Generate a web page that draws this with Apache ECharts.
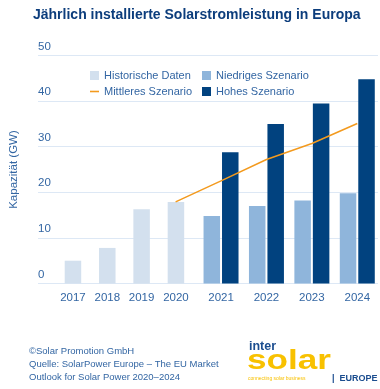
<!DOCTYPE html>
<html><head><meta charset="utf-8">
<script src="https://cdn.jsdelivr.net/npm/echarts@6/dist/echarts.min.js"></script>
<style>html,body{margin:0;padding:0;background:#fff}#c{width:380px;height:389px}</style>
</head><body><div id="c"></div>
<script>
const histYears = ['2017','2018','2019','2020'];
const histValues = [5.0, 7.8, 16.3, 17.9];
const scenYears = ['2020','2021','2022','2023','2024'];
const lowValues = [null, 14.8, 17.0, 18.2, 19.8];
const highValues = [null, 28.8, 35.0, 39.5, 44.8];
const midValues = [17.9, 22.5, 27.2, 30.7, 35.1];
const yTicks = [0, 10, 20, 30, 40, 50];

const FONT = '"Liberation Sans", sans-serif';
const TXT = '#3366a3';
const chart = echarts.init(document.getElementById('c'), null, {renderer: 'canvas'});
const yBase = {type: 'value', min: yTicks[0], max: yTicks[yTicks.length - 1], interval: 10};
chart.setOption({
  animation: false,
  backgroundColor: '#fff',
  title: {text: 'Jährlich installierte Solarstromleistung in Europa', left: 28, top: 3,
    textStyle: {fontFamily: FONT, fontWeight: 'bold', fontSize: 14, color: '#0c3d7c'}},
  grid: [
    {left: 29, right: 2, top: 55.5, bottom: 105.5},
    {left: 55.8, width: 137.3, top: 55.5, bottom: 105.5},
    {left: 152.9, width: 231.25, top: 55.5, bottom: 105.5}
  ],
  xAxis: [
    {type: 'category', gridIndex: 0, data: histYears, show: false},
    {type: 'category', gridIndex: 1, data: histYears, axisLine: {show: false}, axisTick: {show: false},
      axisLabel: {interval: 0, color: TXT, fontFamily: FONT, fontSize: 11.5, margin: 8}},
    {type: 'category', gridIndex: 2, data: scenYears, axisLine: {show: false}, axisTick: {show: false},
      axisLabel: {interval: 0, color: TXT, fontFamily: FONT, fontSize: 11.5, margin: 8, formatter: v => v === '2020' ? '' : v}}
  ],
  yAxis: [
    Object.assign({}, yBase, {gridIndex: 0, name: 'Kapazität (GW)', nameLocation: 'middle', nameRotate: 90, nameGap: 18,
      nameTextStyle: {color: TXT, fontFamily: FONT, fontSize: 11.5},
      axisLine: {show: false}, axisTick: {show: false},
      splitLine: {lineStyle: {color: '#dde8f5', width: 1}},
      axisLabel: {inside: true, margin: 0, verticalAlign: 'bottom', padding: [0, 0, 3, 0], color: TXT, fontFamily: FONT, fontSize: 11.5}}),
    Object.assign({}, yBase, {gridIndex: 1, show: false}),
    Object.assign({}, yBase, {gridIndex: 2, show: false})
  ],
  legend: [
    {left: 85, top: 65, orient: 'vertical', itemWidth: 9, itemHeight: 9, itemGap: 5,
      data: [{name: 'Historische Daten', icon: 'rect'}, {name: 'Mittleres Szenario', icon: 'path://M0,0 L9,0 L9,1.6 L0,1.6 Z'}],
      textStyle: {color: TXT, fontFamily: FONT, fontSize: 11}},
    {left: 197, top: 65, orient: 'vertical', itemWidth: 9, itemHeight: 9, itemGap: 5,
      data: [{name: 'Niedriges Szenario', icon: 'rect'}, {name: 'Hohes Szenario', icon: 'rect'}],
      textStyle: {color: TXT, fontFamily: FONT, fontSize: 11}}
  ],
  series: [
    {name: 'Historische Daten', type: 'bar', xAxisIndex: 1, yAxisIndex: 1, data: histValues, barWidth: 16.5,
      itemStyle: {color: '#d3e0ee'}},
    {name: 'Niedriges Szenario', type: 'bar', xAxisIndex: 2, yAxisIndex: 2, data: lowValues, barWidth: 16.5, barGap: '12%',
      itemStyle: {color: '#8fb5db'}},
    {name: 'Hohes Szenario', type: 'bar', xAxisIndex: 2, yAxisIndex: 2, data: highValues, barWidth: 16.5, barGap: '12%',
      itemStyle: {color: '#01427f'}},
    {name: 'Mittleres Szenario', type: 'line', xAxisIndex: 2, yAxisIndex: 2, data: midValues, symbol: 'none',
      lineStyle: {color: '#f39a1e', width: 1.5}, itemStyle: {color: '#f39a1e'}, z: 5}
  ],
  graphic: [
    {type: 'text', left: 29, top: 345, style: {text: '©Solar Promotion GmbH\nQuelle: SolarPower Europe – The EU Market\nOutlook for Solar Power 2020–2024',
      fill: TXT, font: '9.5px ' + FONT, lineHeight: 13}},
    {type: 'text', x: 249, y: 340, style: {text: 'inter', fill: '#1b4d8f', font: 'bold 12.5px ' + FONT}},
    {type: 'text', x: 247, y: 348, scaleX: 1.3, style: {text: 'solar', fill: '#f8c100', font: 'bold 27px ' + FONT}},
    {type: 'text', x: 248, y: 376, style: {text: 'connecting solar business', fill: '#f8c100', font: '5px ' + FONT}},
    {type: 'text', x: 332, y: 374, style: {text: '|  EUROPE', fill: '#1b4d8f', font: 'bold 9px ' + FONT}}
  ]
});
</script></body></html>
